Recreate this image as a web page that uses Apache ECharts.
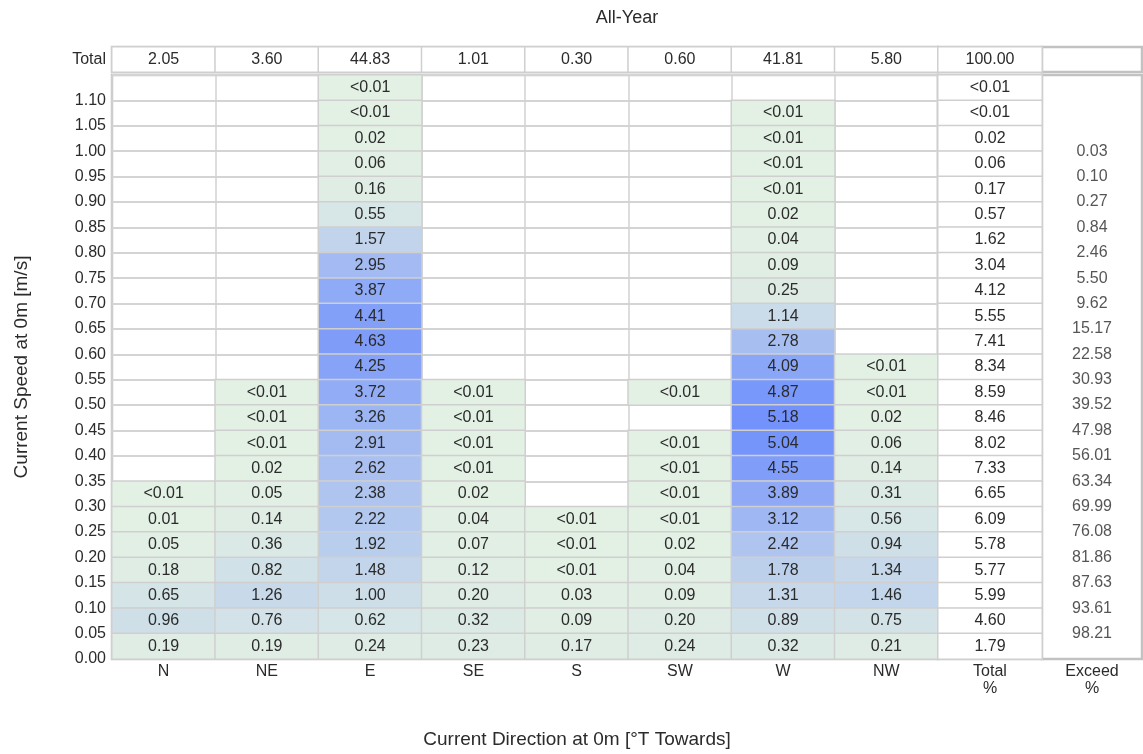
<!DOCTYPE html>
<html><head><meta charset="utf-8">
<script src="https://cdn.jsdelivr.net/npm/echarts@6/dist/echarts.min.js"></script>
<style>html,body{margin:0;padding:0;background:#fff}#c{width:1143px;height:754px}</style>
</head><body><div id="c"></div>
<script>
// ---------- data ----------
const directions = ['N','NE','E','SE','S','SW','W','NW'];
// speed bins, listed from top row to bottom row
const speedBins = ['>1.10','1.05-1.10','1.00-1.05','0.95-1.00','0.90-0.95','0.85-0.90','0.80-0.85',
  '0.75-0.80','0.70-0.75','0.65-0.70','0.60-0.65','0.55-0.60','0.50-0.55','0.45-0.50','0.40-0.45',
  '0.35-0.40','0.30-0.35','0.25-0.30','0.20-0.25','0.15-0.20','0.10-0.15','0.05-0.10','0.00-0.05'];
const LT = 0.005; // stands for "<0.01"
const _ = null;   // empty cell
const valN  = [_,_,_,_,_,_,_,_,_,_,_,_,_,_,_,_,LT,0.01,0.05,0.18,0.65,0.96,0.19];
const valNE = [_,_,_,_,_,_,_,_,_,_,_,_,LT,LT,LT,0.02,0.05,0.14,0.36,0.82,1.26,0.76,0.19];
const valE  = [LT,LT,0.02,0.06,0.16,0.55,1.57,2.95,3.87,4.41,4.63,4.25,3.72,3.26,2.91,2.62,2.38,2.22,1.92,1.48,1.00,0.62,0.24];
const valSE = [_,_,_,_,_,_,_,_,_,_,_,_,LT,LT,LT,LT,0.02,0.04,0.07,0.12,0.20,0.32,0.23];
const valS  = [_,_,_,_,_,_,_,_,_,_,_,_,_,_,_,_,_,LT,LT,LT,0.03,0.09,0.17];
const valSW = [_,_,_,_,_,_,_,_,_,_,_,_,LT,_,LT,LT,LT,LT,0.02,0.04,0.09,0.20,0.24];
const valW  = [_,LT,LT,LT,LT,0.02,0.04,0.09,0.25,1.14,2.78,4.09,4.87,5.18,5.04,4.55,3.89,3.12,2.42,1.78,1.31,0.89,0.32];
const valNW = [_,_,_,_,_,_,_,_,_,_,_,LT,LT,0.02,0.06,0.14,0.31,0.56,0.94,1.34,1.46,0.75,0.21];
const rowTotals = [LT,LT,0.02,0.06,0.17,0.57,1.62,3.04,4.12,5.55,7.41,8.34,8.59,8.46,8.02,7.33,6.65,6.09,5.78,5.77,5.99,4.60,1.79];
const dirTotals = [2.05,3.60,44.83,1.01,0.30,0.60,41.81,5.80];
const grandTotal = 100.00;
const exceedSpeeds = [1.00,0.95,0.90,0.85,0.80,0.75,0.70,0.65,0.60,0.55,0.50,0.45,0.40,0.35,0.30,0.25,0.20,0.15,0.10,0.05];
const exceedValues = [0.03,0.10,0.27,0.84,2.46,5.50,9.62,15.17,22.58,30.93,39.52,47.98,56.01,63.34,69.99,76.08,81.86,87.63,93.61,98.21];
const titleText = 'All-Year';
const xName = 'Current Direction at 0m [°T Towards]';
const yName = 'Current Speed at 0m [m/s]';

// ---------- build ----------
const dirValues = [valN,valNE,valE,valSE,valS,valSW,valW,valNW];
const FONT = "'Liberation Sans', Arial, sans-serif";
const TXT = '#2b2b2b';
const FS = 16;
const fmt = v => v < 0.01 ? '<0.01' : v.toFixed(2);
const cellData = [];
dirValues.forEach((col, i) => col.forEach((v, r) => { if (v !== null) cellData.push([i, r, v]); }));
const totalColData = rowTotals.map((v, r) => [0, r, v]);
const headerData = dirTotals.map((v, i) => [i, 0, v]);
const exceedData = exceedSpeeds.map((s, k) => [0, s, exceedValues[k]]);

const L = 112, W0 = 826, W1 = 104, W2 = 100, HT = 47, HH = 25, DT = 75, DH = 584;
const gridBase = {show: true, borderColor: '#c2c2c2', borderWidth: 2.5, backgroundColor: '#fff', containLabel: false, outerBoundsMode: 'none'};
const hLine = {show: true, lineStyle: {color: '#d4d4d4', width: 2}};
const vLine = {show: true, lineStyle: {color: '#d2d2d2', width: 1.5}};
const noAxis = {axisLine: {show: false}, axisTick: {show: false}};
const lbl = {color: TXT, fontFamily: FONT, fontSize: FS};
const cellLabel = {show: true, ...lbl, formatter: p => fmt(p.value[2])};
const cellBorder = {borderColor: '#cfcfcf', borderWidth: 1.5};

const chart = echarts.init(document.getElementById('c'));
chart.setOption({
  animation: false,
  backgroundColor: '#fff',
  grid: [
    {...gridBase, left: L, top: DT, width: W0, height: DH},
    {...gridBase, left: L + W0, top: DT, width: W1, height: DH},
    {...gridBase, left: L + W0 + W1, top: DT, width: W2, height: DH},
    {...gridBase, left: L, top: HT, width: W0, height: HH},
    {...gridBase, left: L + W0, top: HT, width: W1, height: HH},
    {...gridBase, left: L + W0 + W1, top: HT, width: W2, height: HH}
  ],
  xAxis: [
    {gridIndex: 0, type: 'category', data: directions, position: 'bottom', ...noAxis, splitLine: vLine,
      axisLabel: {...lbl, margin: 4, lineHeight: 17}},
    {gridIndex: 1, type: 'category', data: ['Total\n%'], position: 'bottom', ...noAxis, splitLine: {show: false},
      axisLabel: {...lbl, margin: 4, lineHeight: 17}},
    {gridIndex: 2, type: 'category', data: ['Exceed\n%'], position: 'bottom', ...noAxis, splitLine: {show: false},
      axisLabel: {...lbl, margin: 4, lineHeight: 17}},
    {gridIndex: 3, type: 'category', data: directions, ...noAxis, splitLine: vLine, axisLabel: {show: false}},
    {gridIndex: 4, type: 'category', data: [''], ...noAxis, axisLabel: {show: false}},
    {gridIndex: 5, type: 'category', data: [''], ...noAxis, axisLabel: {show: false}}
  ],
  yAxis: [
    {gridIndex: 0, type: 'category', data: speedBins, inverse: true, position: 'left', ...noAxis,
      axisLabel: {show: false}, splitLine: hLine},
    {gridIndex: 0, type: 'value', min: 0, max: 1.15, interval: 0.05, position: 'left', ...noAxis,
      splitLine: {show: false},
      axisLabel: {...lbl, margin: 6, formatter: v => v > 1.12 ? '' : v.toFixed(2)}},
    {gridIndex: 1, type: 'category', data: speedBins, inverse: true, position: 'left', ...noAxis,
      axisLabel: {show: false}, splitLine: hLine},
    {gridIndex: 2, type: 'value', min: 0, max: 1.15, position: 'left', ...noAxis,
      axisLabel: {show: false}, splitLine: {show: false}},
    {gridIndex: 3, type: 'category', data: ['Total'], position: 'left', ...noAxis,
      axisLabel: {...lbl, margin: 6}},
    {gridIndex: 4, type: 'category', data: [''], ...noAxis, axisLabel: {show: false}},
    {gridIndex: 5, type: 'category', data: [''], ...noAxis, axisLabel: {show: false}}
  ],
  visualMap: {
    type: 'continuous', show: false, seriesIndex: 0, dimension: 2, min: 0, max: 5.4,
    inRange: {color: ['#e3f0e4', '#6e8efd']}
  },
  series: [
    {type: 'heatmap', xAxisIndex: 0, yAxisIndex: 0, data: cellData, label: cellLabel, itemStyle: cellBorder},
    {type: 'heatmap', xAxisIndex: 1, yAxisIndex: 2, data: totalColData, label: cellLabel,
      itemStyle: {color: '#fff', ...cellBorder}},
    {type: 'heatmap', xAxisIndex: 3, yAxisIndex: 4, data: headerData, label: cellLabel,
      itemStyle: {color: '#fff', ...cellBorder}},
    {type: 'heatmap', xAxisIndex: 4, yAxisIndex: 5, data: [[0, 0, grandTotal]], label: cellLabel,
      itemStyle: {color: '#fff', ...cellBorder}},
    {type: 'scatter', xAxisIndex: 2, yAxisIndex: 3, data: exceedData, symbol: 'rect', symbolSize: 1,
      itemStyle: {color: 'rgba(0,0,0,0)'},
      label: {show: true, position: 'inside', ...lbl, formatter: p => p.value[2].toFixed(2)}}
  ],
  graphic: [
    {type: 'text', x: L + (W0 + W1 + W2) / 2, y: 18, style: {text: titleText, fill: TXT, font: `18px ${FONT}`, textAlign: 'center', textVerticalAlign: 'middle'}},
    {type: 'text', x: L + (W0 + W1) / 2, y: 740, style: {text: xName, fill: TXT, font: `19px ${FONT}`, textAlign: 'center', textVerticalAlign: 'middle'}},
    {type: 'text', x: 22, y: DT + DH / 2, rotation: Math.PI / 2, style: {text: yName, fill: TXT, font: `19px ${FONT}`, textAlign: 'center', textVerticalAlign: 'middle'}}
  ]
});
</script></body></html>
